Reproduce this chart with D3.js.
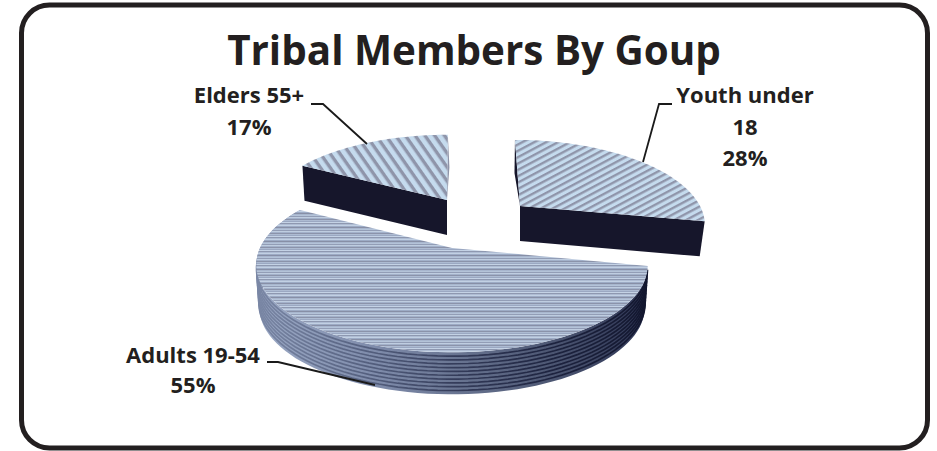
<!DOCTYPE html>
<html><head><meta charset="utf-8">
<style>html,body{margin:0;padding:0;background:#fff}svg{display:block}text{font-family:"Open Sans",Lato,sans-serif;font-weight:700;fill:#231f20;text-anchor:middle}</style>
<script src="https://cdn.jsdelivr.net/npm/d3@7/dist/d3.min.js"></script>
</head><body><svg id="c" width="937" height="451"></svg>
<script>
const categories = ["Youth under 18", "Adults 19-54", "Elders 55+"];
const values = [28, 55, 17];
const percentLabels = ["28%", "55%", "17%"];
const chartTitle = "Tribal Members By Goup";
const labelLines = [["Youth under", "18", "28%"], ["Adults 19-54", "55%"], ["Elders 55+", "17%"]];

// layout of each exploded slice (screen geometry, not data)
const sliceLayout = [
  {cx:520, cy:206, rx:180, A:79, k:.195, skew:-6, depth:35, shrink:.973, rot:0, top:"url(#pY)", side:"#16162b"},
  {cx:452, cy:248, rx:192, A:84, k:.195, skew:0, depth:42, shrink:.985, rot:1, top:"url(#pA)", side:"url(#gA)"},
  {cx:447, cy:200, rx:181, A:78, k:.195, skew:1, depth:35, shrink:.986, rot:0, top:"url(#pE)", side:"#16162b"}
];
const labelLayout = [
  {x:745, y:[103,135,166], leader:[[672,104],[659,104],[643,162]]},
  {x:193, y:[363,393], leader:[[267,362],[278,362],[375,385]]},
  {x:249, y:[103,135], leader:[[311,104],[323,104],[367,144]]}
];
const adultRows = ["#aebcd3","#c2d0e3","#9dabc5","#878fa6","#a8b6ce","#b4c3d8","#929db6","#bfcde0","#a3b1ca","#8b93aa","#adbbd2","#9ba8c2","#c4d2e5","#8e98b0"];

const svg = d3.select("#c");
const defs = svg.append("defs");
function stripes(id, period, angle, a, b){
  const p = defs.append("pattern").attr("id",id).attr("patternUnits","userSpaceOnUse")
    .attr("width",period).attr("height",period).attr("patternTransform",`rotate(${angle})`);
  p.append("rect").attr("width",period).attr("height",period).attr("fill",a);
  p.append("rect").attr("width",period).attr("height",period*.42).attr("fill",b);
}
stripes("pE", 8, 55, "#c5dbee", "#8f95aa");
stripes("pY", 5.6, -28, "#c5dbee", "#8f95aa");
const pA = defs.append("pattern").attr("id","pA").attr("patternUnits","userSpaceOnUse")
  .attr("width",10).attr("height",adultRows.length);
pA.selectAll("rect").data(adultRows).join("rect")
  .attr("y",(d,i)=>i).attr("width",10).attr("height",1).attr("fill",d=>d);
function gradient(id, stops){
  const g = defs.append("linearGradient").attr("id",id).attr("gradientUnits","userSpaceOnUse")
    .attr("x1",257).attr("x2",648).attr("y1",0).attr("y2",0);
  stops.forEach(s=>g.append("stop").attr("offset",s[0]).attr("stop-color",s[1]));
}
gradient("gA", [[0,"#9aa8c4"],[.3,"#7f8cab"],[.5,"#6a7693"],[.75,"#4d5773"],[1,"#2d3453"]]);
gradient("gL", [[0,"#7a87a5"],[.3,"#525d7c"],[.5,"#353d5b"],[.75,"#1e2440"],[1,"#12162e"]]);

// frame
svg.append("rect").attr("x",21.5).attr("y",5).attr("width",906).attr("height",443).attr("rx",28)
  .attr("fill","#fff").attr("stroke","#231f20").attr("stroke-width",5);

svg.append("text").attr("x",474).attr("y",65).attr("font-size",40.4).text(chartTitle);

const pie = d3.pie().sort(null).value(d=>d)(values);
function project(L, ang, f){
  const a = ang + L.rot*Math.PI/180, u = Math.sin(a), v = Math.cos(a), w = 1 + L.k*v;
  const s = f===0 ? 1 : 1 + (L.shrink-1)*f;
  return [L.cx + s*(L.rx*u + L.skew*v)/w, L.cy - L.A*v/w + L.depth*f];
}
function arcPts(L, a0, a1, f){
  return d3.range(0, 81).map(i => project(L, a0 + (a1-a0)*i/80, f));
}
const line = d3.line();

function apex(L, f){ return [L.cx + (f? (L.shrink-1)*f : 0), L.cy + L.depth*f]; }

pie.forEach((p,i)=>{
  const L = sliceLayout[i];
  const g = svg.append("g");
  if(i===1){
    const top = arcPts(L,p.startAngle,p.endAngle,0), bot = arcPts(L,p.startAngle,p.endAngle,1).reverse();
    g.append("path").attr("d",line(top.concat(bot))+"Z").attr("fill",L.side);
    d3.range(1,11).forEach(n=>{
      g.append("path").attr("d",line(arcPts(L,p.startAngle,p.endAngle,n/11)))
        .attr("fill","none").attr("stroke","url(#gL)").attr("stroke-width",1.7);
    });
  } else {
    // cut face toward the viewer
    const from = i===0 ? p.endAngle : p.startAngle;
    const pts = [apex(L,0), project(L,from,0), project(L,from,1), apex(L,1)];
    g.append("path").attr("d",line(pts)+"Z").attr("fill",L.side);
    // thin sliver along the other cut edge
    const other = i===0 ? p.startAngle : p.endAngle;
    const a = apex(L,0), b = project(L,other,0);
    const mid = [(a[0]+b[0])/2 + (i===0?-3:2), (a[1]+b[1])/2];
    g.append("path").attr("d",line([a,b,mid])+"Z").attr("fill",i===0?"#16162b":"#8d93a8");
  }
  const outline = [apex(L,0)].concat(arcPts(L,p.startAngle,p.endAngle,0));
  g.append("path").attr("d",line(outline)+"Z").attr("fill",L.top);
});

// leaders and labels
labelLines.forEach((lines,i)=>{
  const T = labelLayout[i];
  svg.append("path").attr("d",line(T.leader)).attr("fill","none").attr("stroke","#1a1a1a").attr("stroke-width",1.8);
  lines.forEach((t,j)=>svg.append("text").attr("x",T.x).attr("y",T.y[j]).attr("font-size",22).text(t));
});
</script></body></html>
